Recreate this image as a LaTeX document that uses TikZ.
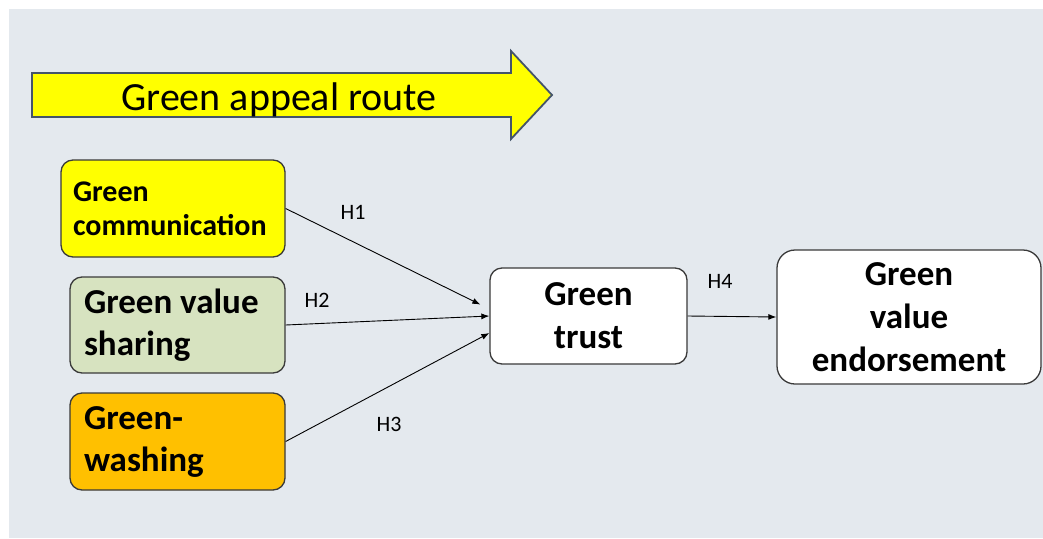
\documentclass[tikz,border=0pt]{standalone}
\usepackage{fontspec}
\setmainfont{Carlito}
\usetikzlibrary{arrows.meta}
\definecolor{bgc}{HTML}{E4E9EE}
\definecolor{ylw}{HTML}{FFFF00}
\definecolor{sage}{HTML}{D7E3C0}
\definecolor{amber}{HTML}{FFC000}
\definecolor{edgec}{HTML}{3A3A3A}
\definecolor{arrowedge}{HTML}{44546A}
\tikzset{
  box/.style={draw=edgec, line width=1.3pt, rounded corners=12pt, inner sep=0pt},
  lbox/.style={box, align=flush left, font=\bfseries\fontsize{35}{42}\selectfont},
  cbox/.style={box, fill=white, align=center, font=\bfseries\fontsize{35}{43}\selectfont},
  hlabel/.style={font=\fontsize{22}{26}\selectfont, inner sep=0pt},
  conn/.style={draw=black, line width=0.9pt, -{Latex[length=8pt,width=6pt]}}
}
\begin{document}
\begin{tikzpicture}[x=1pt,y=-1pt]
\useasboundingbox (0,0) rectangle (1043,538);
\fill[white] (0,0) rectangle (1043,538);
\fill[bgc] (9,9) rectangle (1043,538);
% big arrow
\draw[fill=ylw, draw=arrowedge, line width=1.8pt, line join=miter]
  (32,73) -- (511,73) -- (511,51) -- (552,95) -- (511,139) -- (511,117) -- (32,117) -- cycle;
\node[anchor=base, inner sep=0pt, font=\fontsize{40}{48}\selectfont] (route) at (279,110) {Green appeal route};
% left boxes
\node[box, fill=ylw, minimum width=224pt, minimum height=97pt, text width=200pt, align=flush left,
      font=\bfseries\fontsize{30}{34}\selectfont] (gc) at (173,208.5) {Green\\communication};
\node[lbox, fill=sage, minimum width=215pt, minimum height=96pt, text width=187pt] (gvs) at (177.5,325) {Green value\\sharing};
\node[lbox, fill=amber, minimum width=215pt, minimum height=97pt, text width=187pt] (gw) at (177.5,441.5) {Green-\\washing};
% right boxes
\node[cbox, minimum width=197pt, minimum height=96pt] (trust) at (588.5,316) {Green\\trust};
\node[cbox, rounded corners=18pt, minimum width=264pt, minimum height=134pt] (gve) at (909,317) {Green\\value\\endorsement};
% connectors
\draw[conn, shorten >=10pt] (gc.east) -- ([yshift=7pt]trust.west);
\draw[conn] (gvs.east) -- (trust.west);
\draw[conn] (gw.east) -- ([yshift=-17pt]trust.west);
\draw[conn] (trust.east) -- (gve.west);
% labels
\node[hlabel] (h1) at (353,212) {H1};
\node[hlabel] (h2) at (317,300) {H2};
\node[hlabel] (h3) at (389,424) {H3};
\node[hlabel] (h4) at (720,281) {H4};
\end{tikzpicture}
\end{document}
